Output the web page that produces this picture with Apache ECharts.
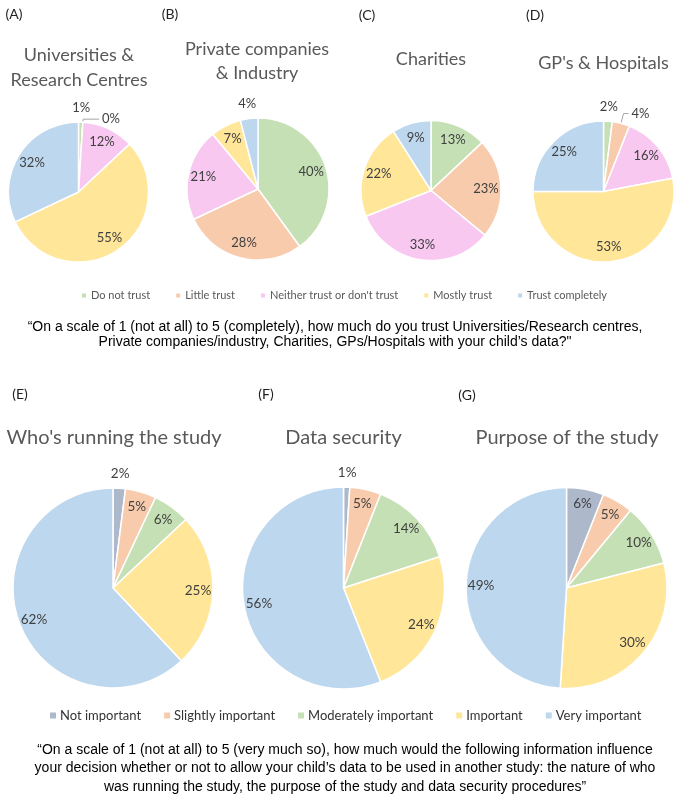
<!DOCTYPE html>
<html><head><meta charset="utf-8">
<script src="https://cdn.jsdelivr.net/npm/echarts@6/dist/echarts.min.js"></script>
<style>html,body{margin:0;padding:0;background:#fff}#c{width:684px;height:805px}</style>
</head><body><div id="c"></div>
<script>
// ---------- data ----------
const trustCategories = ['Do not trust', 'Little trust', "Neither trust or don't trust", 'Mostly trust', 'Trust completely'];
const univValues = [1, 0, 12, 55, 32];
const privateValues = [40, 28, 21, 7, 4];
const charityValues = [13, 23, 33, 22, 9];
const gpValues = [2, 4, 16, 53, 25];

const importanceCategories = ['Not important', 'Slightly important', 'Moderately important', 'Important', 'Very important'];
const whoValues = [2, 5, 6, 25, 62];
const securityValues = [1, 5, 14, 24, 56];
const purposeValues = [6, 5, 10, 30, 49];

const panelLetters = ['(A)', '(B)', '(C)', '(D)', '(E)', '(F)', '(G)'];
const panelTitles = [['Universities &', 'Research Centres'], ['Private companies', '& Industry'], ['Charities'], ["GP's & Hospitals"],
  ["Who's running the study"], ['Data security'], ['Purpose of the study']];
const caption1 = ['\u201COn a scale of 1 (not at all) to 5 (completely), how much do you trust Universities/Research centres,',
  'Private companies/industry, Charities, GPs/Hospitals with your child\u2019s data?"'];
const caption2 = ['\u201COn a scale of 1 (not at all) to 5 (very much so), how much would the following information influence',
  'your decision whether or not to allow your child\u2019s data to be used in another study: the nature of who',
  'was running the study, the purpose of the study and data security procedures\u201D'];

// label placement per slice: 'in' = inside, 'out' = just outside, 'line' = outside with leader line
const univLabelMode = ['out', 'line', 'in', 'in', 'in'];
const privateLabelMode = ['in', 'in', 'in', 'in', 'out'];
const charityLabelMode = ['in', 'in', 'in', 'in', 'in'];
const gpLabelMode = ['out', 'line', 'in', 'in', 'in'];
const whoLabelMode = ['out', 'in', 'in', 'in', 'in'];
const securityLabelMode = ['out', 'in', 'in', 'in', 'in'];
const purposeLabelMode = ['in', 'in', 'in', 'in', 'in'];

// ---------- style ----------
const trustColors = ['#C5E0B4', '#F8CBAD', '#F9C8F1', '#FFE699', '#BDD7EE'];
const importanceColors = ['#ADB9CA', '#F8CBAD', '#C5E0B4', '#FFE699', '#BDD7EE'];
const FONT = 'Lato';

const pies = [
  {values: univValues, names: trustCategories, colors: trustColors, modes: univLabelMode, c: [78.5, 192], r: 70, fs: 13},
  {values: privateValues, names: trustCategories, colors: trustColors, modes: privateLabelMode, c: [258, 189], r: 71, fs: 13},
  {values: charityValues, names: trustCategories, colors: trustColors, modes: charityLabelMode, c: [431, 190.5], r: 70, fs: 13},
  {values: gpValues, names: trustCategories, colors: trustColors, modes: gpLabelMode, c: [603.5, 191.5], r: 70.5, fs: 13},
  {values: whoValues, names: importanceCategories, colors: importanceColors, modes: whoLabelMode, c: [113, 588], r: 100, fs: 13.5},
  {values: securityValues, names: importanceCategories, colors: importanceColors, modes: securityLabelMode, c: [343.5, 588], r: 101, fs: 13.5},
  {values: purposeValues, names: importanceCategories, colors: importanceColors, modes: purposeLabelMode, c: [566.5, 588], r: 100.5, fs: 13.5}
];
const letterPos = [[14, 14], [170, 14], [367, 15], [535, 15], [20, 394], [266, 394], [467, 395]];
const titlePos = [[79, 55, 25], [257, 49, 24], [431, 59, 0], [603.5, 63, 0], [114, 438, 0], [343.5, 438, 0], [567, 438, 0]];

const labelStyle = (fs) => ({color: '#404040', fontFamily: FONT, fontSize: fs, formatter: '{c}%'});

const series = [];
pies.forEach((p) => {
  // real pie
  series.push({
    type: 'pie', center: p.c, radius: p.r, startAngle: 90, clockwise: true,
    avoidLabelOverlap: false, animation: false, emphasis: {disabled: true}, silent: true,
    itemStyle: {borderColor: '#fff', borderWidth: 1.5},
    label: Object.assign({show: false}, labelStyle(p.fs)),
    labelLine: {show: false},
    data: p.values.map((v, i) => {
      const d = {name: p.names[i], value: v, itemStyle: {color: p.colors[i]}};
      if (p.modes[i] === 'line') {
        d.label = {show: true, position: 'outside', distanceToLabelLine: 3};
        d.labelLine = {show: true, length: p.values[i] === 0 ? 3 : 10, length2: p.values[i] === 0 ? 16 : 5, lineStyle: {color: '#A6A6A6', width: 1}};
      }
      return d;
    })
  });
  // invisible overlays used only to place labels at a given radius
  [['in', 2 * (p.r - 18)], ['out', 2 * (p.r + 11.5)]].forEach(([mode, R]) => {
    series.push({
      type: 'pie', center: p.c, radius: R, startAngle: 90, clockwise: true,
      avoidLabelOverlap: false, animation: false, silent: true, emphasis: {disabled: true},
      itemStyle: {color: 'rgba(0,0,0,0)', borderWidth: 0},
      label: Object.assign({show: true, position: 'inside'}, labelStyle(p.fs)),
      labelLine: {show: false},
      data: p.values.map((v, i) => ({name: p.names[i], value: v, label: {show: p.modes[i] === mode}}))
    });
  });
});

const graphics = [];
letterPos.forEach((pos, i) => graphics.push({type: 'text', x: pos[0], y: pos[1],
  style: {text: panelLetters[i], fill: '#222', font: '14px ' + FONT, textAlign: 'center', textVerticalAlign: 'middle'}}));
titlePos.forEach((pos, i) => panelTitles[i].forEach((t, j) => graphics.push({type: 'text', x: pos[0], y: pos[1] + j * pos[2],
  style: {text: t, fill: '#595959', font: (i < 4 ? '18px ' : '20px ') + FONT, textAlign: 'center', textVerticalAlign: 'middle'}})));
const capFont = '14px "Liberation Sans Narrow", "Liberation Sans", Arial, sans-serif';
const cap1Y = [327, 342.5];
const cap2Y = [750, 768.5, 787];
caption1.forEach((t, i) => graphics.push({type: 'text', x: 335, y: cap1Y[i], style: {text: t, fill: '#000', font: capFont, textAlign: 'center', textVerticalAlign: 'middle'}}));
caption2.forEach((t, i) => graphics.push({type: 'text', x: 345, y: cap2Y[i], style: {text: t, fill: '#000', font: capFont, textAlign: 'center', textVerticalAlign: 'middle'}}));

const chart = echarts.init(document.getElementById('c'), null, {renderer: 'canvas'});
chart.setOption({
  animation: false,
  legend: [
    {data: trustCategories.map((n, i) => ({name: n, itemStyle: {color: trustColors[i]}})),
     left: 80, top: 290, padding: 0, itemWidth: 6, itemHeight: 6, itemGap: 24, icon: 'rect', selectedMode: false,
     textStyle: {fontFamily: FONT, fontSize: 11, color: '#595959', padding: [0, 0, 0, -1]}},
    {data: importanceCategories.map((n, i) => ({name: n, itemStyle: {color: importanceColors[i]}})),
     left: 48, top: 709, padding: 0, itemWidth: 8, itemHeight: 8, itemGap: 21, icon: 'rect', selectedMode: false,
     textStyle: {fontFamily: FONT, fontSize: 13, color: '#333', padding: [0, 0, 0, -2]}}
  ],
  series: series,
  graphic: graphics
});
</script></body></html>
